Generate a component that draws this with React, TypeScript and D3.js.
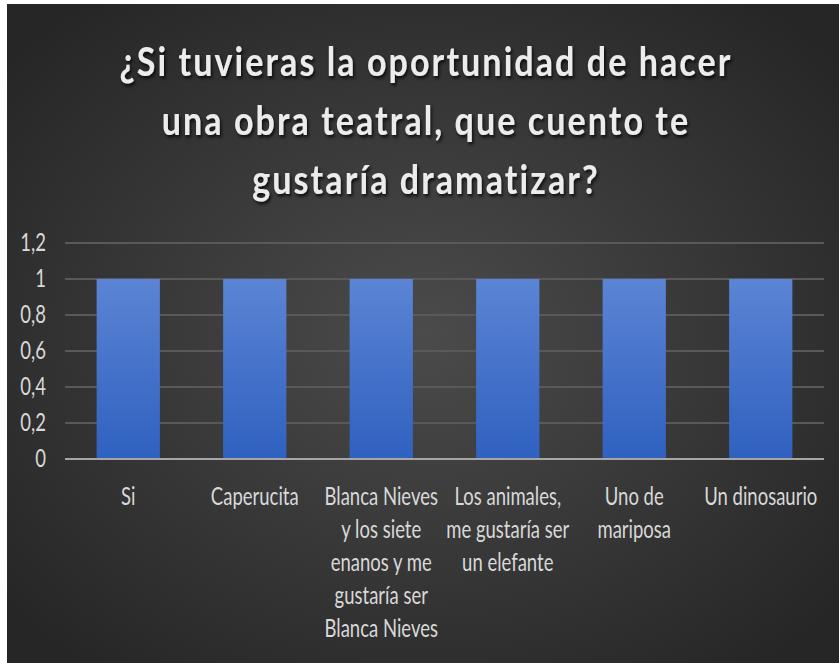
import React, { useEffect } from "react";
import * as d3 from "d3";

const categories: string[] = [
  "Si",
  "Caperucita",
  "Blanca Nieves\ny los siete\nenanos y me\ngustaría ser\nBlanca Nieves",
  "Los animales,\nme gustaría ser\nun elefante",
  "Uno de\nmariposa",
  "Un dinosaurio",
];
const values: number[] = [1, 1, 1, 1, 1, 1];
const yTicks: number[] = [0, 0.2, 0.4, 0.6, 0.8, 1, 1.2];
const yTickLabels: string[] = ["0", "0,2", "0,4", "0,6", "0,8", "1", "1,2"];
const titleLines: string[] = [
  "¿Si tuvieras la oportunidad de hacer",
  "una obra teatral, que cuento te",
  "gustaría dramatizar?",
];

const W = 839;
const H = 663;
const plot = { left: 65, right: 824, top: 243, bottom: 459 };
const LABEL_SX = 0.74;
const TITLE_SX = 0.83;

export default function App() {
  useEffect(() => {
    document.body.style.margin = "0";
  }, []);

  const x = d3
    .scaleBand<string>()
    .domain(categories)
    .range([plot.left, plot.right])
    .padding(0);
  const y = d3.scaleLinear().domain([0, 1.2]).range([plot.bottom, plot.top]);
  const barW = x.bandwidth() * 0.5;

  return (
    <svg width={W} height={H} style={{ display: "block" }}>
      <defs>
        <radialGradient id="bg" cx="0.5" cy="0.5" r="0.65">
          <stop offset="0" stopColor="#4b4b4b" />
          <stop offset="1" stopColor="#262626" />
        </radialGradient>
        <linearGradient id="bar" x1="0" y1="0" x2="0" y2="1">
          <stop offset="0" stopColor="#5b84d4" />
          <stop offset="1" stopColor="#2f61c0" />
        </linearGradient>
        <filter id="shadow" x="-10%" y="-20%" width="120%" height="150%">
          <feDropShadow dx="1.5" dy="2.5" stdDeviation="1.5" floodColor="#000" floodOpacity="0.75" />
        </filter>
      </defs>
      <rect x={0} y={0} width={W} height={H} fill="#ffffff" />
      <rect x={7} y={4} width={W - 7} height={H - 4} fill="url(#bg)" />

      {/* title */}
      <g filter="url(#shadow)">
        {titleLines.map((t, i) => (
          <text
            key={i}
            transform={`translate(426,${76 + i * 59}) scale(${TITLE_SX},1)`}
            textAnchor="middle"
            fontFamily="Lato"
            fontWeight={700}
            fontSize={41}
            letterSpacing={2.5}
            fill="#ececec"
          >
            {t}
          </text>
        ))}
      </g>

      {/* gridlines */}
      {yTicks.map((t, i) =>
        t === 0 ? null : (
          <line
            key={i}
            x1={plot.left}
            x2={plot.right}
            y1={y(t)}
            y2={y(t)}
            stroke="#595959"
            strokeWidth={2}
          />
        )
      )}

      {/* y labels */}
      {yTicks.map((t, i) => (
        <text
          key={i}
          transform={`translate(46,${y(t) + 8}) scale(${LABEL_SX},1)`}
          textAnchor="end"
          fontFamily="Lato"
          fontSize={25}
          fill="#d9d9d9"
        >
          {yTickLabels[i]}
        </text>
      ))}

      {/* bars */}
      {categories.map((c, i) => (
        <rect
          key={c}
          x={(x(c) as number) + (x.bandwidth() - barW) / 2}
          y={y(values[i])}
          width={barW}
          height={y(0) - y(values[i])}
          fill="url(#bar)"
        />
      ))}

      {/* axis line */}
      <line
        x1={plot.left}
        x2={plot.right}
        y1={y(0)}
        y2={y(0)}
        stroke="#a6a6a6"
        strokeWidth={2}
      />

      {/* x labels */}
      {categories.map((c) => (
        <g key={c}>
          {c.split("\n").map((ln, j) => (
            <text
              key={j}
              transform={`translate(${(x(c) as number) + x.bandwidth() / 2},${505 + j * 33}) scale(${LABEL_SX},1)`}
              textAnchor="middle"
              fontFamily="Lato"
              fontSize={25}
              fill="#d9d9d9"
            >
              {ln}
            </text>
          ))}
        </g>
      ))}
    </svg>
  );
}
